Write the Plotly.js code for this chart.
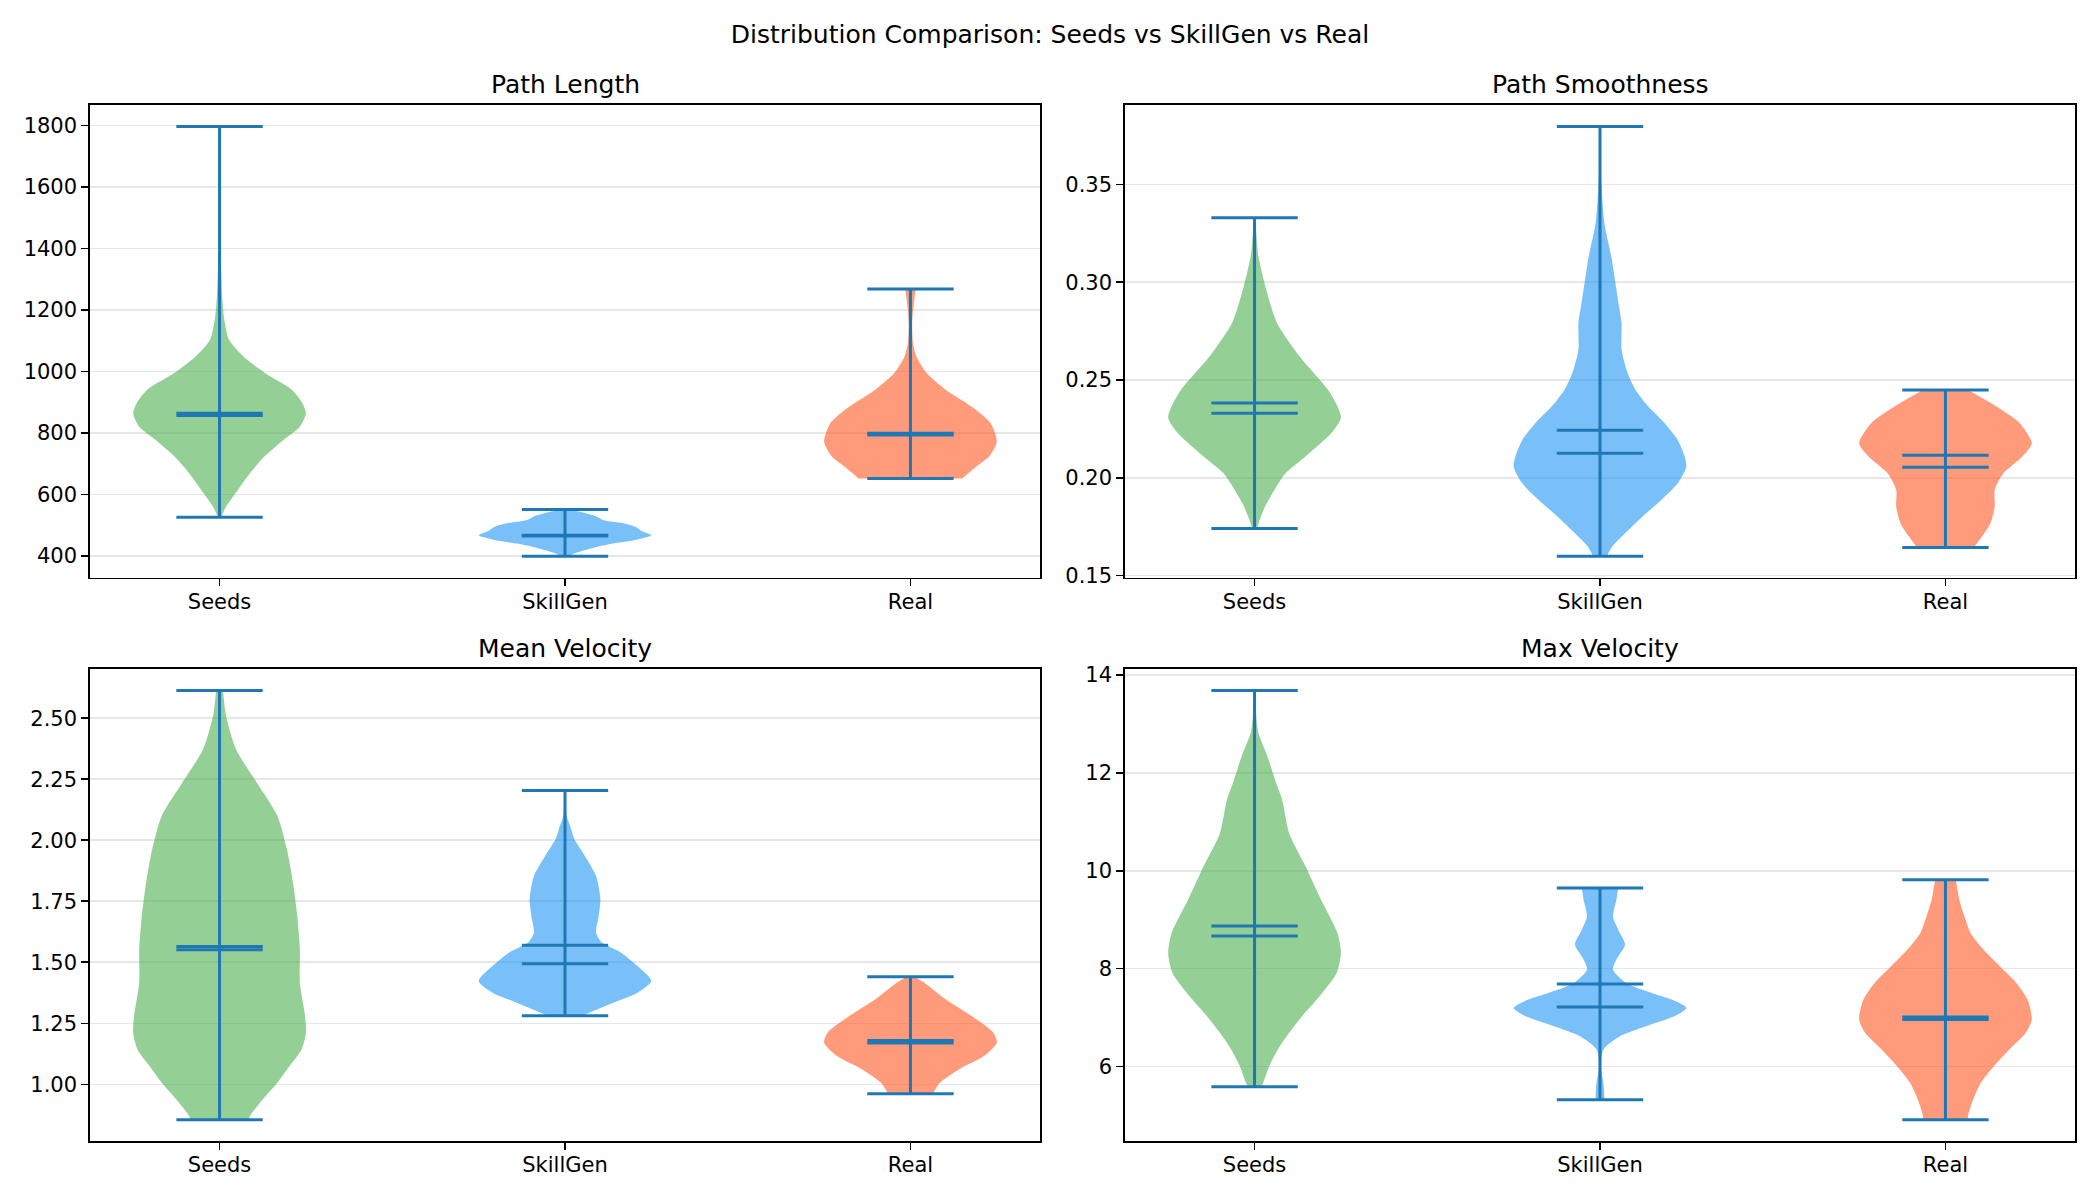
<!DOCTYPE html>
<html>
<head>
<meta charset="utf-8">
<script src="https://cdn.plot.ly/plotly-3.0.1.min.js"></script>
<style>html,body{margin:0;padding:0;background:#fff;}</style>
</head>
<body>
<div id="chart" style="width:2100px;height:1200px;"></div>
<script>
// ---------------- DATA ----------------
const groups = ['Seeds', 'SkillGen', 'Real'];
const panelTitles = ['Path Length', 'Path Smoothness', 'Mean Velocity', 'Max Velocity'];
const suptitle = 'Distribution Comparison: Seeds vs SkillGen vs Real';

// Summary statistics per panel: [Seeds, SkillGen, Real]
const plMins = [526, 399, 652];
const plMaxs = [1797, 551, 1268];
const plMeans = [864, 467, 799];
const plMedians = [857, 465, 793];

const psMins = [0.1740, 0.1598, 0.1643];
const psMaxs = [0.3330, 0.3797, 0.2448];
const psMeans = [0.2382, 0.2243, 0.2053];
const psMedians = [0.2330, 0.2125, 0.2115];

const mvMins = [0.855, 1.2816, 0.9619];
const mvMaxs = [2.6135, 2.2037, 1.4414];
const mvMeans = [1.565, 1.5697, 1.180];
const mvMedians = [1.552, 1.4945, 1.170];

const xvMins = [5.586, 5.320, 4.912];
const xvMaxs = [13.68, 9.647, 9.816];
const xvMeans = [8.871, 7.688, 7.010];
const xvMedians = [8.667, 7.218, 6.960];

// Violin density profiles: values and relative density (1 = widest)
const plSeedsV = [526, 560, 614, 668, 723, 777, 820, 864, 897, 940, 994, 1048, 1103, 1179, 1250, 1320, 1396, 1500, 1650, 1797];
const plSeedsW = [0.02, 0.075, 0.21, 0.35, 0.52, 0.74, 0.93, 1.0, 0.96, 0.84, 0.53, 0.28, 0.11, 0.05, 0.03, 0.02, 0.014, 0.006, 0.004, 0.002];
const plSkillV = [399, 407, 424, 440, 451, 467, 482, 494, 505, 516, 530, 543, 551];
const plSkillW = [0.04, 0.10, 0.30, 0.55, 0.80, 1.0, 0.88, 0.82, 0.70, 0.45, 0.35, 0.18, 0.05];
const plRealV = [652, 657, 690, 723, 771, 831, 885, 940, 994, 1048, 1092, 1150, 1200, 1268];
const plRealW = [0.60, 0.62, 0.76, 0.91, 1.0, 0.93, 0.71, 0.41, 0.19, 0.07, 0.03, 0.02, 0.03, 0.06];

const psSeedsV = [0.1740, 0.1766, 0.1851, 0.1937, 0.2022, 0.2108, 0.2228, 0.2305, 0.2365, 0.2450, 0.2621, 0.2792, 0.2963, 0.3133, 0.3250, 0.3330];
const psSeedsW = [0.03, 0.045, 0.12, 0.23, 0.36, 0.59, 0.89, 1.0, 0.96, 0.85, 0.52, 0.26, 0.135, 0.045, 0.02, 0.01];
const psSkillV = [0.1598, 0.1646, 0.1715, 0.1800, 0.1886, 0.1971, 0.2056, 0.2108, 0.2193, 0.2279, 0.2364, 0.2450, 0.2535, 0.2655, 0.2792, 0.2877, 0.2963, 0.3133, 0.3305, 0.3477, 0.3600, 0.3797];
const psSkillW = [0.08, 0.14, 0.29, 0.49, 0.71, 0.90, 1.0, 0.98, 0.90, 0.75, 0.56, 0.41, 0.32, 0.25, 0.25, 0.22, 0.19, 0.13, 0.05, 0.02, 0.008, 0.003];
const psRealV = [0.1643, 0.1697, 0.1766, 0.1851, 0.1937, 0.2022, 0.2108, 0.2176, 0.2279, 0.2364, 0.2448];
const psRealW = [0.33, 0.42, 0.52, 0.57, 0.57, 0.67, 0.89, 1.0, 0.86, 0.59, 0.26];

const mvSeedsV = [0.855, 0.870, 0.9385, 1.007, 1.075, 1.1434, 1.2117, 1.280, 1.4168, 1.553, 1.690, 1.8266, 1.963, 2.0996, 2.2365, 2.373, 2.5095, 2.6135];
const mvSeedsW = [0.34, 0.35, 0.50, 0.67, 0.81, 0.95, 1.0, 0.99, 0.93, 0.93, 0.90, 0.85, 0.78, 0.67, 0.43, 0.19, 0.075, 0.04];
const mvSkillV = [1.2816, 1.2938, 1.3348, 1.3758, 1.4234, 1.4848, 1.5398, 1.580, 1.6217, 1.690, 1.758, 1.8537, 1.9357, 2.004, 2.0586, 2.0996, 2.150, 2.2037];
const mvSkillW = [0.20, 0.28, 0.56, 0.84, 1.0, 0.84, 0.65, 0.43, 0.36, 0.39, 0.41, 0.36, 0.23, 0.11, 0.06, 0.02, 0.01, 0.005];
const mvRealV = [0.9619, 1.007, 1.0615, 1.116, 1.171, 1.2119, 1.280, 1.348, 1.4168, 1.4414];
const mvRealW = [0.26, 0.34, 0.56, 0.85, 1.0, 0.96, 0.71, 0.41, 0.16, 0.045];

const xvSeedsV = [5.586, 5.667, 6.006, 6.347, 6.688, 7.027, 7.367, 7.912, 8.320, 8.728, 9.408, 10.088, 10.769, 11.449, 11.790, 12.333, 12.810, 13.149, 13.680];
const xvSeedsW = [0.08, 0.10, 0.17, 0.27, 0.40, 0.55, 0.72, 0.95, 1.0, 0.96, 0.77, 0.59, 0.40, 0.32, 0.25, 0.15, 0.045, 0.02, 0.005];
const xvSkillV = [5.320, 5.395, 5.667, 6.006, 6.347, 6.618, 6.822, 7.027, 7.198, 7.367, 7.504, 7.708, 7.980, 8.184, 8.490, 8.796, 9.067, 9.408, 9.647];
const xvSkillW = [0.05, 0.05, 0.04, 0.01, 0.04, 0.23, 0.53, 0.86, 1.0, 0.83, 0.60, 0.30, 0.15, 0.19, 0.29, 0.21, 0.15, 0.19, 0.21];
const xvRealV = [4.912, 4.986, 5.327, 5.667, 6.006, 6.347, 6.688, 6.959, 7.367, 7.708, 8.047, 8.388, 8.728, 9.067, 9.408, 9.816];
const xvRealW = [0.26, 0.26, 0.32, 0.41, 0.56, 0.74, 0.93, 1.0, 0.95, 0.82, 0.63, 0.44, 0.29, 0.22, 0.16, 0.12];

// ---------------- STYLE ----------------
const fillColors = ['rgba(76,175,80,0.6)', 'rgba(33,150,243,0.6)', 'rgba(255,87,34,0.6)'];
const lineColor = '#1f77b4';
const FONT = 'DejaVu Sans, Liberation Sans, sans-serif';
const W = 2100, H = 1200;
const VW = 0.5;          // full violin width (matplotlib default widths=0.5)
const CAP = 0.125;       // half length of min/max/mean/median lines

const panels = [
  {profiles: [[plSeedsV, plSeedsW], [plSkillV, plSkillW], [plRealV, plRealW]], mins: plMins, maxs: plMaxs, means: plMeans, medians: plMedians, dtick: 200, fmt: 'd'},
  {profiles: [[psSeedsV, psSeedsW], [psSkillV, psSkillW], [psRealV, psRealW]], mins: psMins, maxs: psMaxs, means: psMeans, medians: psMedians, dtick: 0.05, fmt: '.2f'},
  {profiles: [[mvSeedsV, mvSeedsW], [mvSkillV, mvSkillW], [mvRealV, mvRealW]], mins: mvMins, maxs: mvMaxs, means: mvMeans, medians: mvMedians, dtick: 0.25, fmt: '.2f'},
  {profiles: [[xvSeedsV, xvSeedsW], [xvSkillV, xvSkillW], [xvRealV, xvRealW]], mins: xvMins, maxs: xvMaxs, means: xvMeans, medians: xvMedians, dtick: 2, fmt: 'd'}
];

const domX = [[90 / W, 1040 / W], [1125 / W, 2075 / W], [90 / W, 1040 / W], [1125 / W, 2075 / W]];
const domY = [[1 - 577.7 / H, 1 - 105 / H], [1 - 577.7 / H, 1 - 105 / H], [1 - 1141.3 / H, 1 - 669 / H], [1 - 1141.3 / H, 1 - 669 / H]];
const titleY = [1 - 84 / H, 1 - 84 / H, 1 - 648 / H, 1 - 648 / H];

const traces = [];
const layout = {
  width: W, height: H,
  margin: {l: 0, r: 0, t: 0, b: 0},
  paper_bgcolor: '#ffffff', plot_bgcolor: '#ffffff',
  showlegend: false,
  font: {family: FONT, color: '#000000', size: 21},
  title: {text: suptitle, x: 0.5, xanchor: 'center', y: 1 - 34 / H, yanchor: 'middle', font: {family: FONT, size: 25, color: '#000'}},
  annotations: []
};

panels.forEach((p, k) => {
  const suf = k === 0 ? '' : String(k + 1);
  const xa = 'x' + suf, ya = 'y' + suf;
  // violin bodies
  p.profiles.forEach((prof, g) => {
    const c = g + 1;
    const v = prof[0], w = prof[1];
    traces.push({
      type: 'scatter', mode: 'lines', xaxis: xa, yaxis: ya,
      x: v.map((_, i) => c - VW / 2 * w[i]), y: v,
      line: {width: 0, shape: 'spline', smoothing: 0.7, color: 'rgba(0,0,0,0)'},
      hoverinfo: 'skip', showlegend: false
    });
    traces.push({
      type: 'scatter', mode: 'lines', xaxis: xa, yaxis: ya,
      x: v.map((_, i) => c + VW / 2 * w[i]), y: v,
      line: {width: 0, shape: 'spline', smoothing: 0.7, color: 'rgba(0,0,0,0)'},
      fill: 'tonextx', fillcolor: fillColors[g],
      hoverinfo: 'skip', showlegend: false
    });
  });
  // bars, caps, means, medians
  const lx = [], ly = [];
  groups.forEach((_, g) => {
    const c = g + 1;
    lx.push(c, c, null); ly.push(p.mins[g], p.maxs[g], null);
    [p.mins[g], p.maxs[g], p.means[g], p.medians[g]].forEach(val => {
      lx.push(c - CAP, c + CAP, null); ly.push(val, val, null);
    });
  });
  traces.push({
    type: 'scatter', mode: 'lines', xaxis: xa, yaxis: ya, x: lx, y: ly,
    line: {color: lineColor, width: 3}, hoverinfo: 'skip', showlegend: false
  });

  const lo = Math.min(...p.mins), hi = Math.max(...p.maxs);
  const pad = 0.05 * (hi - lo);
  layout['xaxis' + suf] = {
    domain: domX[k], anchor: ya, range: [0.625, 3.375],
    tickmode: 'array', tickvals: [1, 2, 3], ticktext: groups,
    showgrid: false, zeroline: false,
    showline: true, mirror: true, linecolor: '#000', linewidth: 1.7,
    ticks: 'outside', ticklen: 7, tickwidth: 1.7, tickcolor: '#000',
    ticklabelstandoff: -3,
    tickfont: {family: FONT, size: 21, color: '#000'}, fixedrange: true
  };
  layout['yaxis' + suf] = {
    domain: domY[k], anchor: xa, range: [lo - pad, hi + pad],
    tick0: 0, dtick: p.dtick, tickformat: p.fmt,
    showgrid: true, gridcolor: '#e7e7e7', gridwidth: 1.7, zeroline: false,
    showline: true, mirror: true, linecolor: '#000', linewidth: 1.7,
    ticks: 'outside', ticklen: 7, tickwidth: 1.7, tickcolor: '#000',
    tickfont: {family: FONT, size: 21, color: '#000'}, fixedrange: true
  };
  layout.annotations.push({
    text: panelTitles[k], xref: 'paper', yref: 'paper',
    x: (domX[k][0] + domX[k][1]) / 2, y: titleY[k], xanchor: 'center', yanchor: 'middle',
    showarrow: false, font: {family: FONT, size: 25, color: '#000'}
  });
});

Plotly.newPlot('chart', traces, layout, {staticPlot: true, displayModeBar: false});
</script>
</body>
</html>
